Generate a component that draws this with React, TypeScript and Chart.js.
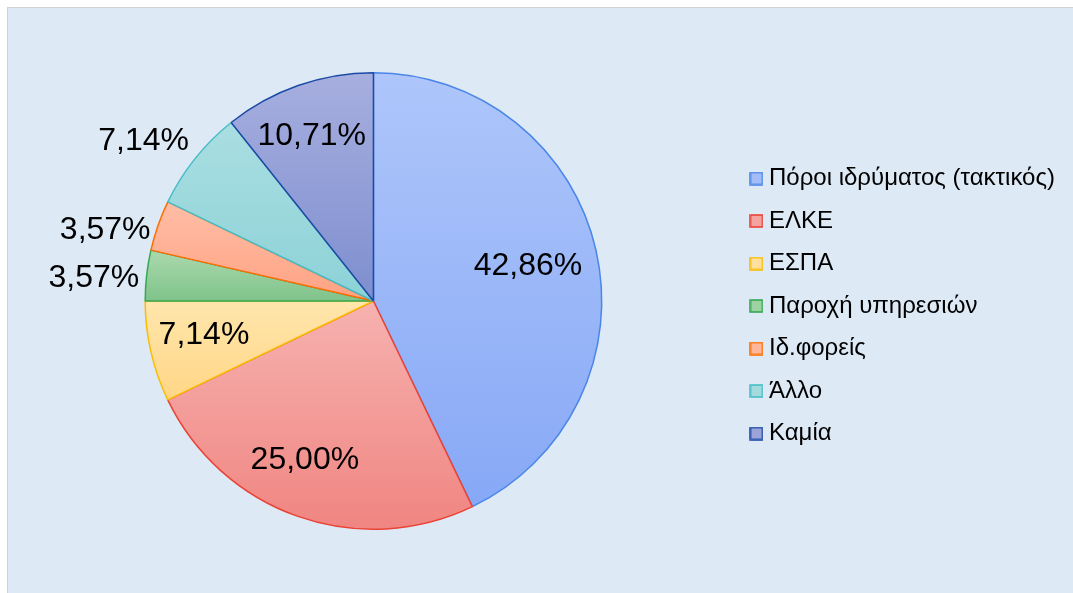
import React, { useEffect, useRef } from "react";
import { Chart, registerables } from "chart.js";

Chart.register(...registerables);

const categories = [
  "Πόροι ιδρύματος (τακτικός)",
  "ΕΛΚΕ",
  "ΕΣΠΑ",
  "Παροχή υπηρεσιών",
  "Ιδ.φορείς",
  "Άλλο",
  "Καμία",
];
const shares = [42.86, 25.0, 7.14, 3.57, 3.57, 7.14, 10.71];

const lightColors = ["#aec6fa", "#f6b2b0", "#ffe6ac", "#acd9ae", "#ffbea6", "#aadee2", "#a7afdf"];
const darkColors = ["#87a8f6", "#f08581", "#ffd686", "#7fc38a", "#ffa283", "#8cd2d7", "#7e8ecf"];
const borderColors = ["#4a86e8", "#ea4335", "#fbbc04", "#34a853", "#ff6d01", "#46bdc6", "#1c4aa5"];
const legendFill = ["#a3bdf8", "#f4a3a0", "#ffe09c", "#9dd2a2", "#ffb69b", "#a2dade", "#9aa4da"];

// label placement: radius factor and angular nudge (degrees) per slice
const LABEL_RADIUS = [0.697, 0.75, 0.755, 1.23, 1.219, 1.232, 0.781];
const LABEL_NUDGE = [-0.9, 4.3, 2.4, -1.2, -3.9, -3.4, -1.0];
const FONT = "'Liberation Sans', Arial, sans-serif";
const LABEL_SIZE = 32;

function sliceGradient(ctx: any) {
  const chart = ctx.chart;
  const i = ctx.dataIndex;
  const area = chart.chartArea;
  if (!area || i === undefined) return lightColors[i ?? 0];
  const cx = (area.left + area.right) / 2;
  const cy = (area.top + area.bottom) / 2;
  const r = Math.min(area.right - area.left, area.bottom - area.top) / 2;
  const total = shares.reduce((a, b) => a + b, 0);
  let before = 0;
  for (let k = 0; k < i; k++) before += shares[k];
  const a0 = -Math.PI / 2 + (before / total) * Math.PI * 2;
  const a1 = a0 + (shares[i] / total) * Math.PI * 2;
  const ys = [cy, cy + r * Math.sin(a0), cy + r * Math.sin(a1)];
  const within = (a: number) => {
    let t = a;
    while (t < a0) t += Math.PI * 2;
    return t <= a1;
  };
  if (within(-Math.PI / 2)) ys.push(cy - r);
  if (within(Math.PI / 2)) ys.push(cy + r);
  const top = Math.min(...ys);
  const bottom = Math.max(...ys);
  const g = chart.ctx.createLinearGradient(0, top, 0, bottom);
  g.addColorStop(0, lightColors[i]);
  g.addColorStop(1, darkColors[i]);
  return g;
}

const labelPlugin = {
  id: "sliceLabels",
  afterDatasetsDraw(chart: any) {
    const meta = chart.getDatasetMeta(0);
    const c = chart.ctx;
    c.save();
    c.font = `${LABEL_SIZE}px ${FONT}`;
    c.fillStyle = "#000000";
    c.textAlign = "center";
    c.textBaseline = "alphabetic";
    meta.data.forEach((arc: any, i: number) => {
      const p = arc.getProps(["x", "y", "startAngle", "endAngle", "outerRadius"], true);
      const mid = (p.startAngle + p.endAngle) / 2 + (LABEL_NUDGE[i] * Math.PI) / 180;
      const rr = p.outerRadius * LABEL_RADIUS[i];
      const x = p.x + Math.cos(mid) * rr;
      const y = p.y + Math.sin(mid) * rr;
      const txt = shares[i].toFixed(2).replace(".", ",") + "%";
      c.fillText(txt, x, y + LABEL_SIZE * 0.358);
    });
    c.restore();
  },
};

function makeSwatch(fill: string, stroke: string) {
  const cv = document.createElement("canvas");
  cv.width = 14;
  cv.height = 14;
  const g = cv.getContext("2d")!;
  g.fillStyle = fill;
  g.fillRect(1, 1, 12, 12);
  g.strokeStyle = stroke;
  g.lineWidth = 1.6;
  g.strokeRect(1, 1, 12, 12);
  return cv;
}

export default function App() {
  const ref = useRef<HTMLCanvasElement | null>(null);
  useEffect(() => {
    if (!ref.current) return;
    const swatches = categories.map((_, i) => makeSwatch(legendFill[i], borderColors[i]));
    const chart = new Chart(ref.current, {
      type: "pie",
      data: {
        labels: categories,
        datasets: [
          {
            data: shares,
            backgroundColor: sliceGradient as any,
            borderColor: borderColors,
            borderWidth: 1.5,
            hoverOffset: 0,
          },
        ],
      },
      options: {
        responsive: false,
        animation: false,
        devicePixelRatio: 1,
        layout: { padding: { top: 72, bottom: 63, left: 9.4, right: 8 } },
        plugins: {
          tooltip: { enabled: false },
          legend: {
            position: "right",
            title: { display: true, text: "", font: { size: 1, lineHeight: 1 }, padding: { top: 9, bottom: 0 } },
            labels: {
              usePointStyle: true,
              boxWidth: 1,
              boxHeight: 14,
              padding: 18.5,
              color: "#000000",
              font: { size: 24, family: FONT },
              generateLabels: () =>
                categories.map((t, i) => ({
                  text: t,
                  fillStyle: legendFill[i],
                  strokeStyle: borderColors[i],
                  lineWidth: 1.5,
                  pointStyle: swatches[i] as any,
                  hidden: false,
                  index: i,
                  fontColor: "#000000",
                })),
            },
          },
        },
      },
      plugins: [labelPlugin],
    });
    return () => chart.destroy();
  }, []);
  return (
    <div style={{ position: "absolute", left: 0, top: 0, width: 1073, height: 593, overflow: "hidden" }}>
      <div
        style={{
          position: "absolute",
          left: 7,
          top: 7,
          width: 1066,
          height: 586,
          background: "#dee9f6",
          borderTop: "1px solid #d2d2d2",
          borderLeft: "1px solid #d2d2d2",
          boxSizing: "border-box",
        }}
      />
      <canvas ref={ref} width={1073} height={593} style={{ position: "absolute", left: 0, top: 0 }} />
    </div>
  );
}
